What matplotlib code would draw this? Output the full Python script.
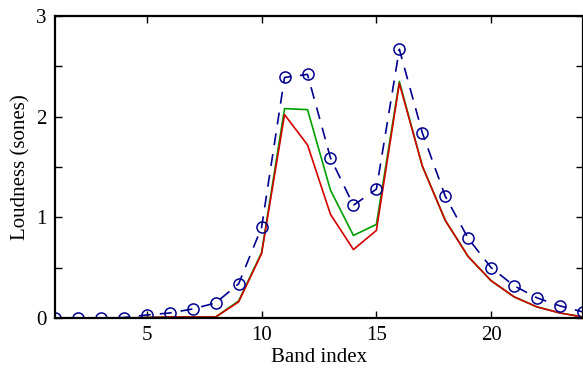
import matplotlib.pyplot as plt
from matplotlib.ticker import MultipleLocator

plt.rcParams['font.family'] = ['Liberation Serif', 'DejaVu Serif']

band = list(range(1, 25))

# total loudness per band (dashed, circles)
loud_total = [0.0, 0.0, 0.0, 0.005, 0.03, 0.05, 0.09, 0.15, 0.34, 0.90,
              2.39, 2.42, 1.59, 1.12, 1.28, 2.67, 1.84, 1.21, 0.79, 0.50,
              0.32, 0.20, 0.12, 0.06]
# green curve
loud_green = [0.0, 0.0, 0.0, 0.0, 0.005, 0.01, 0.01, 0.01, 0.17, 0.65,
              2.08, 2.07, 1.27, 0.82, 0.93, 2.35, 1.51, 0.97, 0.61, 0.37,
              0.21, 0.11, 0.05, 0.01]
# red curve
loud_red = [0.0, 0.0, 0.0, 0.0, 0.005, 0.01, 0.01, 0.01, 0.16, 0.64,
            2.02, 1.72, 1.03, 0.68, 0.87, 2.33, 1.51, 0.97, 0.61, 0.37,
            0.21, 0.11, 0.05, 0.01]

fig = plt.figure(figsize=(5.83, 3.74), dpi=100)
ax = fig.add_axes([0.0943, 0.1497, 0.9057, 0.8075])

ax.plot(band, loud_green, color='#00a000', lw=1.2)
ax.plot(band, loud_red, color='#d40000', lw=1.2)
ax.plot(band, loud_total, '--o', color='#00008f', lw=1.2, dashes=(7.2, 5.4),
        markersize=8, markerfacecolor='none', markeredgewidth=1.1)

ax.set_xlim(1, 24)
ax.set_ylim(0, 3)
ax.set_xticks([5, 10, 15, 20])
ax.set_yticks([0, 1, 2, 3])
ax.yaxis.set_minor_locator(MultipleLocator(0.5))
ax.tick_params(which='both', direction='in', top=True, right=True,
               length=5, width=1, labelsize=15, pad=6)
for s in ax.spines.values():
    s.set_linewidth(1.6)

ax.set_xlabel('Band index', fontsize=15, labelpad=2)
ax.set_ylabel('Loudness (sones)', fontsize=15, labelpad=4)

fig.savefig('out.png', dpi=100)
